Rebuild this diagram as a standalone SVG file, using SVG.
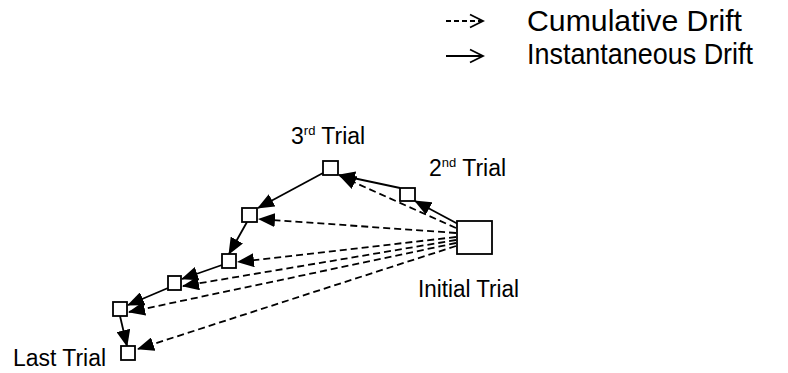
<svg xmlns="http://www.w3.org/2000/svg" width="788" height="373" viewBox="0 0 788 373">
<defs>
<marker id="tri" markerUnits="userSpaceOnUse" markerWidth="17" markerHeight="14" viewBox="0 0 17 14" refX="16" refY="7" orient="auto">
<path d="M0,0 L17,7 L0,14 Z" fill="#000"/>
</marker>
<marker id="chev" markerUnits="userSpaceOnUse" markerWidth="16" markerHeight="16" viewBox="0 0 16 16" refX="14" refY="8" orient="auto">
<path d="M1,1.5 L14,8 L1,14.5" fill="none" stroke="#000" stroke-width="1.8"/>
</marker>
</defs>
<style>
text{font-family:"Liberation Sans",Arial,sans-serif;fill:#000}
.lbl{font-size:23px}
.leg{font-size:29px}
.sup{font-size:13px}
.node rect{fill:#fff;stroke:#000;stroke-width:1.8}
.solid{fill:none;stroke:#000;stroke-width:1.8;marker-end:url(#tri)}
.dash{fill:none;stroke:#000;stroke-width:1.8;stroke-dasharray:7,4;marker-end:url(#tri)}
.lsolid{fill:none;stroke:#000;stroke-width:1.8;marker-end:url(#chev)}
.ldash{fill:none;stroke:#000;stroke-width:1.8;stroke-dasharray:5,3;marker-end:url(#chev)}
</style>
<g id="legend">
<line class="ldash" x1="446" y1="21" x2="483" y2="21"/>
<line class="lsolid" x1="446" y1="56" x2="483" y2="56"/>
<text class="leg" x="527" y="31" textLength="215" lengthAdjust="spacingAndGlyphs">Cumulative Drift</text>
<text class="leg" x="527" y="64" textLength="226" lengthAdjust="spacingAndGlyphs">Instantaneous Drift</text>
</g>
<g id="connectors">
<line class="dash" x1="456" y1="228" x2="340" y2="176"/>
<line class="dash" x1="456" y1="233" x2="259" y2="219"/>
<line class="dash" x1="456" y1="237" x2="238" y2="262"/>
<line class="dash" x1="456" y1="240" x2="183" y2="286"/>
<line class="dash" x1="456" y1="243" x2="129" y2="312"/>
<line class="dash" x1="456" y1="246" x2="138" y2="349"/>
<line class="solid" x1="458" y1="224" x2="415" y2="201"/>
<line class="solid" x1="400" y1="188" x2="339" y2="175"/>
<line class="solid" x1="323" y1="173" x2="258" y2="208"/>
<line class="solid" x1="247" y1="222" x2="229" y2="254"/>
<line class="solid" x1="222" y1="265" x2="182" y2="279"/>
<line class="solid" x1="168" y1="288" x2="128" y2="305"/>
<line class="solid" x1="120" y1="316" x2="127" y2="346"/>
</g>
<g id="initial" class="node"><rect x="457" y="221" width="35" height="33"/><text class="lbl" x="418" y="297" textLength="101" lengthAdjust="spacingAndGlyphs">Initial Trial</text></g>
<g id="trial2" class="node"><rect x="400" y="188" width="15" height="13"/><text class="lbl" x="429" y="176">2<tspan class="sup" dy="-9">nd</tspan><tspan dy="9"> Trial</tspan></text></g>
<g id="trial3" class="node"><rect x="323" y="161" width="15" height="14"/><text class="lbl" x="291" y="144">3<tspan class="sup" dy="-9">rd</tspan><tspan dy="9"> Trial</tspan></text></g>
<g id="trial4" class="node"><rect x="242" y="208" width="15" height="14"/></g>
<g id="trial5" class="node"><rect x="222" y="254" width="14" height="14"/></g>
<g id="trial6" class="node"><rect x="168" y="276" width="13" height="14"/></g>
<g id="trial7" class="node"><rect x="113" y="302" width="14" height="14"/></g>
<g id="last" class="node"><rect x="121" y="346" width="14" height="14"/><text class="lbl" x="13" y="366" textLength="93" lengthAdjust="spacingAndGlyphs">Last Trial</text></g>
</svg>
